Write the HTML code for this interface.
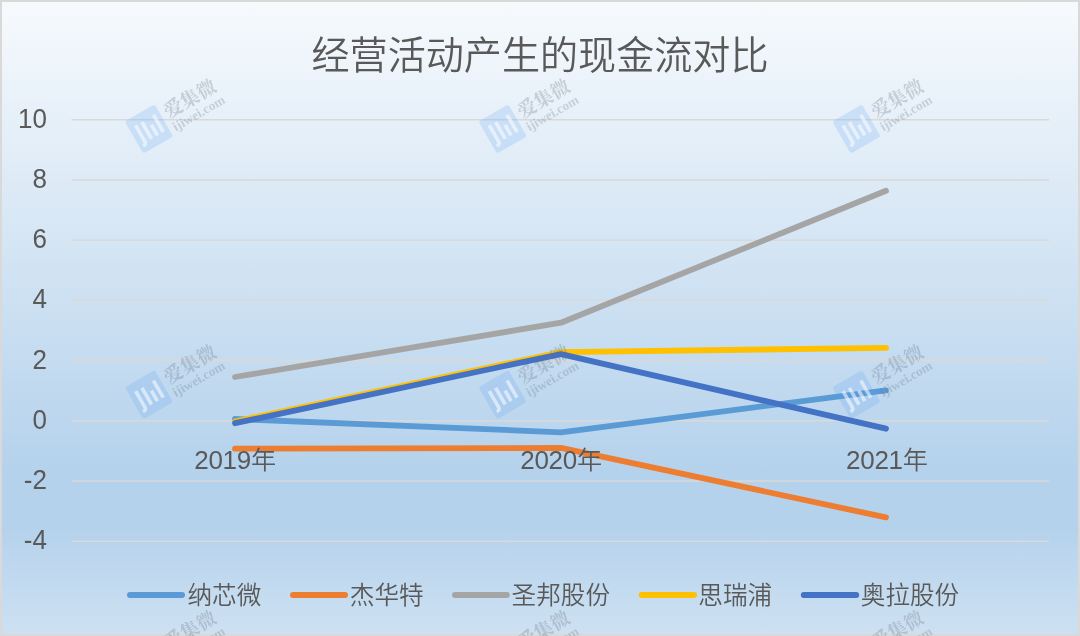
<!DOCTYPE html>
<html lang="zh-CN">
<head>
<meta charset="utf-8">
<title>经营活动产生的现金流对比</title>
<style>
  html, body { margin: 0; padding: 0; }
  body {
    width: 1080px; height: 636px; overflow: hidden;
    background: #d9d9d9;
    font-family: "Liberation Sans", "Noto Sans CJK SC", sans-serif;
  }
  #chart {
    position: absolute; left: 0; top: 0; width: 1080px; height: 636px;
    box-sizing: border-box;
    border: 2px solid #d9d9d9;
    background: linear-gradient(to bottom, #f7fafd 0%, #b5d2ec 74%, #b5d2ec 83%, #cee1f2 100%);
    background-origin: border-box;
    overflow: hidden;
  }
  svg { position: absolute; left: 0; top: 0; display: block; will-change: transform; }
  .t  { font-family: "Liberation Sans", "Noto Sans CJK SC", sans-serif; fill: #595959; }
  .title { font-size: 38.1px; font-weight: 350; }
  .lab { font-size: 24.6px; font-weight: 350; }
  .num { font-size: 26px; font-weight: 400; }
  .xnum { font-size: 26px; font-weight: 400; letter-spacing: -0.3px; }
  .cjk { font-size: 25.2px; }
  .wm-cn { font-family: "Liberation Serif", "Noto Serif CJK SC", serif; font-weight: 700; font-size: 19px; fill: #5f6b7a; fill-opacity: .27; }
  .wm-en { font-family: "Liberation Serif", "Noto Serif CJK SC", serif; font-weight: 700; font-size: 13.3px; fill: #5f6b7a; fill-opacity: .25; }
</style>
</head>
<body>
<div id="chart"></div>
<svg width="1080" height="636" viewBox="0 0 1080 636">

  <!-- gridlines -->
  <g stroke="#d9d9d9" stroke-width="1.6" fill="none">
    <line x1="71.5" x2="1049" y1="119.8" y2="119.8"/>
    <line x1="71.5" x2="1049" y1="180.0" y2="180.0"/>
    <line x1="71.5" x2="1049" y1="240.2" y2="240.2"/>
    <line x1="71.5" x2="1049" y1="300.4" y2="300.4"/>
    <line x1="71.5" x2="1049" y1="360.6" y2="360.6"/>
    <line x1="71.5" x2="1049" y1="420.8" y2="420.8"/>
    <line x1="71.5" x2="1049" y1="481.0" y2="481.0"/>
    <line x1="71.5" x2="1049" y1="541.2" y2="541.2"/>
  </g>

  <!-- title -->
  <text class="t title" x="540" y="69.2" text-anchor="middle">经营活动产生的现金流对比</text>

  <!-- y axis labels -->
  <g class="t num" text-anchor="end">
    <text transform="translate(46.9 127.7) scale(1 1.05)">10</text>
    <text transform="translate(46.9 187.9) scale(1 1.05)">8</text>
    <text transform="translate(46.9 248.1) scale(1 1.05)">6</text>
    <text transform="translate(46.9 308.3) scale(1 1.05)">4</text>
    <text transform="translate(46.9 368.5) scale(1 1.05)">2</text>
    <text transform="translate(46.9 428.7) scale(1 1.05)">0</text>
    <text transform="translate(46.9 488.9) scale(1 1.05)">-2</text>
    <text transform="translate(46.9 549.1) scale(1 1.05)">-4</text>
  </g>

  <!-- series -->
  <g fill="none" stroke-width="5.8" stroke-linecap="round" stroke-linejoin="round">
    <polyline stroke="#5b9bd5" points="235,419 561,432.3 886,390.4"/>
    <polyline stroke="#ed7d31" points="235,448.7 561,447.9 886,517.4"/>
    <polyline stroke="#a5a5a5" points="235,377 561,322.7 886,190.8"/>
    <polyline stroke="#ffc000" points="235,421.5 561,352.1 886,347.9"/>
    <polyline stroke="#4472c4" points="235,423.2 561,354.1 886,428.7"/>
  </g>

  <!-- x axis labels -->
  <g class="t lab" text-anchor="middle">
    <text x="235.2" y="469"><tspan class="xnum">2019</tspan><tspan class="cjk" dy="0.3">年</tspan></text>
    <text x="561.2" y="469"><tspan class="xnum">2020</tspan><tspan class="cjk" dy="0.3">年</tspan></text>
    <text x="887.0" y="469"><tspan class="xnum">2021</tspan><tspan class="cjk" dy="0.3">年</tspan></text>
  </g>

  <!-- legend -->
  <g fill="none" stroke-width="6" stroke-linecap="round">
    <line stroke="#5b9bd5" x1="130" x2="182" y1="594.9" y2="594.9"/>
    <line stroke="#ed7d31" x1="293" x2="345" y1="594.9" y2="594.9"/>
    <line stroke="#a5a5a5" x1="455" x2="506.8" y1="594.9" y2="594.9"/>
    <line stroke="#ffc000" x1="641.7" x2="694" y1="594.9" y2="594.9"/>
    <line stroke="#4472c4" x1="803.8" x2="856.2" y1="594.9" y2="594.9"/>
  </g>
  <g class="t lab">
    <text x="187.5" y="603.6">纳芯微</text>
    <text x="349.8" y="603.6">杰华特</text>
    <text x="511.6" y="603.6">圣邦股份</text>
    <text x="698.3" y="603.6">思瑞浦</text>
    <text x="860.8" y="603.6">奥拉股份</text>
  </g>

  <!-- watermarks -->
  <g id="watermarks">
    <g transform="translate(148.9 128.8) rotate(-30)">
      <rect x="-17.2" y="-18.3" width="34.4" height="37" rx="2.5" fill="#5aa0f5" fill-opacity=".2"/>
      <g fill="#ffffff" fill-opacity=".55">
        <path d="M-11.6 -9.6 h3.6 v18.8 q0 4.6 -5.4 4.4 l-.6 -2.8 q2.4 .1 2.4 -2.2 z"/>
        <rect x="-4.5" y="-9.2" width="3.6" height="19.2"/>
        <rect x="2.3" y="-2.2" width="3.6" height="12.2"/>
        <rect x="9.1" y="-9.8" width="3.6" height="19.8"/>
      </g>
      <text class="wm-cn" x="22" y="1.2">爱集微</text>
      <text class="wm-en" x="22" y="15.8">ijiwei.com</text>
    </g>
    <g transform="translate(502.6 128.8) rotate(-30)">
      <rect x="-17.2" y="-18.3" width="34.4" height="37" rx="2.5" fill="#5aa0f5" fill-opacity=".2"/>
      <g fill="#ffffff" fill-opacity=".55">
        <path d="M-11.6 -9.6 h3.6 v18.8 q0 4.6 -5.4 4.4 l-.6 -2.8 q2.4 .1 2.4 -2.2 z"/>
        <rect x="-4.5" y="-9.2" width="3.6" height="19.2"/>
        <rect x="2.3" y="-2.2" width="3.6" height="12.2"/>
        <rect x="9.1" y="-9.8" width="3.6" height="19.8"/>
      </g>
      <text class="wm-cn" x="22" y="1.2">爱集微</text>
      <text class="wm-en" x="22" y="15.8">ijiwei.com</text>
    </g>
    <g transform="translate(856.3 128.8) rotate(-30)">
      <rect x="-17.2" y="-18.3" width="34.4" height="37" rx="2.5" fill="#5aa0f5" fill-opacity=".2"/>
      <g fill="#ffffff" fill-opacity=".55">
        <path d="M-11.6 -9.6 h3.6 v18.8 q0 4.6 -5.4 4.4 l-.6 -2.8 q2.4 .1 2.4 -2.2 z"/>
        <rect x="-4.5" y="-9.2" width="3.6" height="19.2"/>
        <rect x="2.3" y="-2.2" width="3.6" height="12.2"/>
        <rect x="9.1" y="-9.8" width="3.6" height="19.8"/>
      </g>
      <text class="wm-cn" x="22" y="1.2">爱集微</text>
      <text class="wm-en" x="22" y="15.8">ijiwei.com</text>
    </g>
    <g transform="translate(148.9 394.5) rotate(-30)">
      <rect x="-17.2" y="-18.3" width="34.4" height="37" rx="2.5" fill="#5aa0f5" fill-opacity=".2"/>
      <g fill="#ffffff" fill-opacity=".55">
        <path d="M-11.6 -9.6 h3.6 v18.8 q0 4.6 -5.4 4.4 l-.6 -2.8 q2.4 .1 2.4 -2.2 z"/>
        <rect x="-4.5" y="-9.2" width="3.6" height="19.2"/>
        <rect x="2.3" y="-2.2" width="3.6" height="12.2"/>
        <rect x="9.1" y="-9.8" width="3.6" height="19.8"/>
      </g>
      <text class="wm-cn" x="22" y="1.2">爱集微</text>
      <text class="wm-en" x="22" y="15.8">ijiwei.com</text>
    </g>
    <g transform="translate(502.6 394.5) rotate(-30)">
      <rect x="-17.2" y="-18.3" width="34.4" height="37" rx="2.5" fill="#5aa0f5" fill-opacity=".2"/>
      <g fill="#ffffff" fill-opacity=".55">
        <path d="M-11.6 -9.6 h3.6 v18.8 q0 4.6 -5.4 4.4 l-.6 -2.8 q2.4 .1 2.4 -2.2 z"/>
        <rect x="-4.5" y="-9.2" width="3.6" height="19.2"/>
        <rect x="2.3" y="-2.2" width="3.6" height="12.2"/>
        <rect x="9.1" y="-9.8" width="3.6" height="19.8"/>
      </g>
      <text class="wm-cn" x="22" y="1.2">爱集微</text>
      <text class="wm-en" x="22" y="15.8">ijiwei.com</text>
    </g>
    <g transform="translate(856.3 394.5) rotate(-30)">
      <rect x="-17.2" y="-18.3" width="34.4" height="37" rx="2.5" fill="#5aa0f5" fill-opacity=".2"/>
      <g fill="#ffffff" fill-opacity=".55">
        <path d="M-11.6 -9.6 h3.6 v18.8 q0 4.6 -5.4 4.4 l-.6 -2.8 q2.4 .1 2.4 -2.2 z"/>
        <rect x="-4.5" y="-9.2" width="3.6" height="19.2"/>
        <rect x="2.3" y="-2.2" width="3.6" height="12.2"/>
        <rect x="9.1" y="-9.8" width="3.6" height="19.8"/>
      </g>
      <text class="wm-cn" x="22" y="1.2">爱集微</text>
      <text class="wm-en" x="22" y="15.8">ijiwei.com</text>
    </g>
    <g transform="translate(148.9 660.2) rotate(-30)">
      <rect x="-17.2" y="-18.3" width="34.4" height="37" rx="2.5" fill="#5aa0f5" fill-opacity=".2"/>
      <g fill="#ffffff" fill-opacity=".55">
        <path d="M-11.6 -9.6 h3.6 v18.8 q0 4.6 -5.4 4.4 l-.6 -2.8 q2.4 .1 2.4 -2.2 z"/>
        <rect x="-4.5" y="-9.2" width="3.6" height="19.2"/>
        <rect x="2.3" y="-2.2" width="3.6" height="12.2"/>
        <rect x="9.1" y="-9.8" width="3.6" height="19.8"/>
      </g>
      <text class="wm-cn" x="22" y="1.2">爱集微</text>
      <text class="wm-en" x="22" y="15.8">ijiwei.com</text>
    </g>
    <g transform="translate(502.6 660.2) rotate(-30)">
      <rect x="-17.2" y="-18.3" width="34.4" height="37" rx="2.5" fill="#5aa0f5" fill-opacity=".2"/>
      <g fill="#ffffff" fill-opacity=".55">
        <path d="M-11.6 -9.6 h3.6 v18.8 q0 4.6 -5.4 4.4 l-.6 -2.8 q2.4 .1 2.4 -2.2 z"/>
        <rect x="-4.5" y="-9.2" width="3.6" height="19.2"/>
        <rect x="2.3" y="-2.2" width="3.6" height="12.2"/>
        <rect x="9.1" y="-9.8" width="3.6" height="19.8"/>
      </g>
      <text class="wm-cn" x="22" y="1.2">爱集微</text>
      <text class="wm-en" x="22" y="15.8">ijiwei.com</text>
    </g>
    <g transform="translate(856.3 660.2) rotate(-30)">
      <rect x="-17.2" y="-18.3" width="34.4" height="37" rx="2.5" fill="#5aa0f5" fill-opacity=".2"/>
      <g fill="#ffffff" fill-opacity=".55">
        <path d="M-11.6 -9.6 h3.6 v18.8 q0 4.6 -5.4 4.4 l-.6 -2.8 q2.4 .1 2.4 -2.2 z"/>
        <rect x="-4.5" y="-9.2" width="3.6" height="19.2"/>
        <rect x="2.3" y="-2.2" width="3.6" height="12.2"/>
        <rect x="9.1" y="-9.8" width="3.6" height="19.8"/>
      </g>
      <text class="wm-cn" x="22" y="1.2">爱集微</text>
      <text class="wm-en" x="22" y="15.8">ijiwei.com</text>
    </g>
  </g>
</svg>
</body>
</html>
